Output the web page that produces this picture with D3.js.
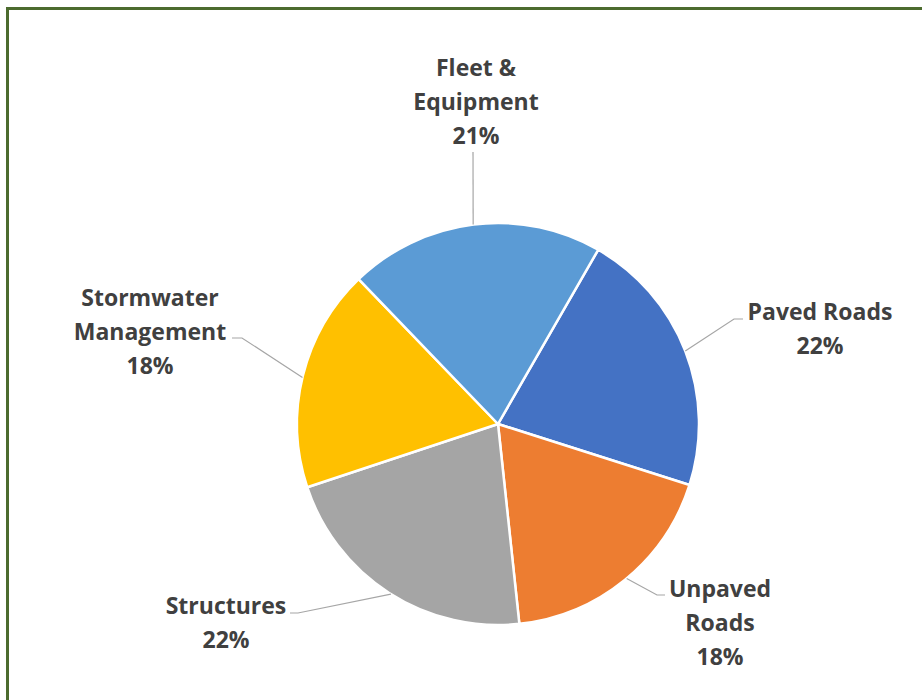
<!DOCTYPE html>
<html>
<head>
<meta charset="utf-8">
<script src="https://cdn.jsdelivr.net/npm/d3@7"></script>
<style>
  html, body { margin: 0; padding: 0; background: #fff; overflow: hidden; }
  svg { display: block; }
</style>
</head>
<body>
<svg id="chart" width="922" height="700"></svg>
<script>
// Budget shares by program area, listed clockwise
const categories = ["Paved Roads", "Unpaved Roads", "Structures", "Stormwater Management", "Fleet & Equipment"];
const values = [21.6, 18.4, 21.6, 17.9, 20.5];
const colors = ["#4472C4", "#ED7D31", "#A5A5A5", "#FFC000", "#5B9BD5"];
// Label text lines for each category (name wrapped)
const labelLines = [
  ["Paved Roads"],
  ["Unpaved", "Roads"],
  ["Structures"],
  ["Stormwater", "Management"],
  ["Fleet &", "Equipment"]
];
// Label placement: text block anchor, rim angle (deg, clockwise from 12 o'clock), leader elbow and end
const labelPos = [
  { x: 820, y: 311, rimDeg: 68.7,  elbow: [734, 319], end: [743, 319] },
  { x: 720, y: 588, rimDeg: 140.2, elbow: [657, 595], end: [665, 595] },
  { x: 226, y: 605, rimDeg: 212.2, elbow: [298, 613], end: [290, 613] },
  { x: 150, y: 297, rimDeg: 283.4, elbow: [242, 338], end: [232, 338] },
  { x: 476, y: 67,  rimDeg: 352.9, elbow: [473, 152], end: [473, 152] }
];

const svg = d3.select("#chart");
const cx = 498, cy = 424, r = 201;
const startDeg = 29.9;

// Chart frame
svg.append("rect")
  .attr("x", 7.5).attr("y", 8.5)
  .attr("width", 940).attr("height", 720)
  .attr("fill", "none")
  .attr("stroke", "#4C6B2E")
  .attr("stroke-width", 3);

const total = d3.sum(values);
const pie = d3.pie()
  .sort(null)
  .value(d => d)
  .startAngle(startDeg * Math.PI / 180)
  .endAngle(startDeg * Math.PI / 180 + 2 * Math.PI);

const arcs = pie(values);
const arc = d3.arc().innerRadius(0).outerRadius(r);

const g = svg.append("g").attr("transform", `translate(${cx},${cy})`);

g.selectAll("path.slice")
  .data(arcs)
  .join("path")
  .attr("class", "slice")
  .attr("d", arc)
  .attr("fill", (d, i) => colors[i])
  .attr("stroke", "#fff")
  .attr("stroke-width", 2.5)
  .attr("stroke-linejoin", "round");

// Leader lines from the slice rim to each label
arcs.forEach((d, i) => {
  const p = labelPos[i];
  let a = p.rimDeg * Math.PI / 180;
  // keep the rim point inside its slice
  while (a < d.startAngle) a += 2 * Math.PI;
  while (a > d.endAngle) a -= 2 * Math.PI;
  const rim = [cx + r * Math.sin(a), cy - r * Math.cos(a)];
  svg.append("path")
    .attr("d", d3.line()([rim, p.elbow, p.end]))
    .attr("fill", "none")
    .attr("stroke", "#A6A6A6")
    .attr("stroke-width", 1.2);
});

// Labels: category name plus its share of the total
const fmt = v => Math.round(v / total * 100) + "%";
const lineH = 34;
arcs.forEach((d, i) => {
  const p = labelPos[i];
  const lines = labelLines[i].concat([fmt(values[i])]);
  const t = svg.append("text")
    .attr("text-anchor", "middle")
    .attr("dominant-baseline", "central")
    .attr("font-family", "'Open Sans', Lato, sans-serif")
    .attr("font-weight", "bold")
    .attr("font-size", 23)
    .attr("fill", "#404040");
  lines.forEach((ln, k) => {
    t.append("tspan")
      .attr("x", p.x)
      .attr("y", p.y + k * lineH)
      .text(ln);
  });
});
</script>
</body>
</html>
